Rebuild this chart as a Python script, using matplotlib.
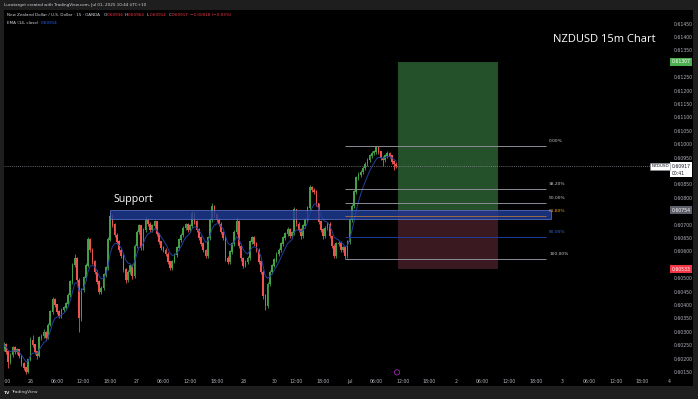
import numpy as np
import pandas as pd
import matplotlib
matplotlib.use("Agg")
import matplotlib.pyplot as plt
import matplotlib.transforms as mtransforms
from matplotlib.patches import Rectangle

# NZDUSD, 30-minute candles (prices in points, 1e-5)
first_open_pts = 60236
closes_pts = [
    60251, 60225, 60187, 60213, 60240, 60225, 60232, 60210, 60180, 60165,
    60150, 60195, 60269, 60251, 60225, 60210, 60277, 60284, 60299, 60277,
    60325, 60374, 60419, 60400, 60374, 60359, 60381, 60389, 60404, 60437,
    60486, 60549, 60575, 60493, 60352, 60456, 60501, 60546, 60643, 60605,
    60561, 60523, 60486, 60449, 60463, 60512, 60538, 60643, 60732, 60699,
    60661, 60635, 60605, 60583, 60531, 60493, 60523, 60546, 60508, 60620,
    60672, 60695, 60613, 60680, 60717, 60702, 60680, 60695, 60710, 60665,
    60635, 60613, 60605, 60590, 60561, 60538, 60561, 60587, 60613, 60643,
    60661, 60687, 60699, 60680, 60695, 60740, 60710, 60680, 60650, 60628,
    60605, 60583, 60650, 60717, 60769, 60736, 60717, 60702, 60672, 60650,
    60575, 60561, 60598, 60628, 60672, 60710, 60620, 60575, 60546, 60561,
    60575, 60635, 60650, 60628, 60605, 60561, 60523, 60434, 60396, 60478,
    60523, 60546, 60568, 60590, 60605, 60628, 60650, 60665, 60680, 60657,
    60669, 60755, 60702, 60680, 60657, 60695, 60717, 60762, 60837, 60829,
    60822, 60777, 60710, 60680, 60657, 60687, 60702, 60657, 60620, 60583,
    60628, 60631, 60605, 60613, 60583, 60635, 60717, 60769, 60822, 60874,
    60885, 60896, 60911, 60926, 60941, 60956, 60967, 60971, 60986, 60971,
    60948, 60941, 60956, 60967, 60956, 60934, 60926, 60917]
highs_pts = [
    60262, 60258, 60230, 60220, 60248, 60247, 60240, 60236, 60214, 60186,
    60170, 60200, 60280, 60288, 60256, 60230, 60285, 60292, 60310, 60304,
    60334, 60382, 60430, 60425, 60405, 60380, 60388, 60397, 60412, 60445,
    60494, 60558, 60590, 60580, 60500, 60462, 60510, 60555, 60654, 60650,
    60612, 60568, 60530, 60492, 60470, 60520, 60546, 60652, 60745, 60740,
    60706, 60668, 60642, 60612, 60590, 60538, 60530, 60554, 60552, 60628,
    60680, 60704, 60700, 60688, 60730, 60724, 60708, 60703, 60718, 60715,
    60670, 60640, 60620, 60612, 60596, 60566, 60568, 60594, 60620, 60650,
    60670, 60695, 60707, 60706, 60703, 60752, 60746, 60716, 60686, 60656,
    60634, 60610, 60658, 60725, 60782, 60775, 60742, 60724, 60708, 60678,
    60656, 60582, 60605, 60636, 60680, 60728, 60716, 60626, 60580, 60568,
    60582, 60642, 60658, 60656, 60634, 60612, 60568, 60530, 60440, 60486,
    60530, 60554, 60576, 60598, 60614, 60636, 60658, 60674, 60690, 60688,
    60677, 60766, 60760, 60708, 60686, 60702, 60725, 60770, 60848, 60845,
    60836, 60828, 60782, 60716, 60686, 60695, 60710, 60708, 60663, 60626,
    60636, 60640, 60638, 60622, 60620, 60642, 60725, 60778, 60830, 60882,
    60895, 60905, 60920, 60934, 60950, 60964, 60975, 60980, 60993, 60990,
    60976, 60955, 60964, 60975, 60972, 60960, 60940, 60935]
lows_pts = [
    60228, 60216, 60165, 60180, 60206, 60218, 60218, 60202, 60172, 60158,
    60143, 60145, 60190, 60244, 60218, 60200, 60206, 60270, 60278, 60270,
    60272, 60320, 60368, 60392, 60366, 60350, 60352, 60374, 60382, 60398,
    60430, 60480, 60542, 60485, 60299, 60340, 60448, 60495, 60540, 60598,
    60552, 60515, 60478, 60440, 60442, 60456, 60505, 60532, 60638, 60690,
    60652, 60626, 60596, 60574, 60522, 60482, 60486, 60515, 60498, 60500,
    60612, 60665, 60605, 60606, 60672, 60694, 60672, 60674, 60688, 60658,
    60628, 60605, 60596, 60582, 60552, 60530, 60532, 60555, 60580, 60606,
    60636, 60654, 60680, 60672, 60673, 60688, 60702, 60672, 60642, 60620,
    60597, 60574, 60576, 60644, 60710, 60728, 60708, 60694, 60664, 60642,
    60566, 60552, 60554, 60590, 60620, 60665, 60612, 60566, 60538, 60540,
    60554, 60568, 60628, 60620, 60598, 60552, 60514, 60424, 60381, 60390,
    60470, 60516, 60540, 60560, 60582, 60598, 60620, 60642, 60658, 60650,
    60650, 60662, 60694, 60672, 60648, 60650, 60688, 60710, 60755, 60820,
    60814, 60768, 60702, 60672, 60648, 60650, 60680, 60650, 60612, 60574,
    60576, 60620, 60597, 60598, 60572, 60576, 60628, 60710, 60762, 60815,
    60866, 60878, 60888, 60904, 60918, 60934, 60948, 60960, 60964, 60962,
    60940, 60920, 60934, 60950, 60948, 60926, 60905, 60910]

# time axis in trading hours from 18:00 Jun 25 (weekend removed)
tick_hours = [0, 6, 12, 18, 24, 30, 36, 42, 48, 54, 61, 66, 72, 78, 84,
              90, 96, 102, 108, 114, 120, 126, 132, 138, 144, 150]
tick_labels = ["18:00", "26", "06:00", "12:00", "18:00", "27", "06:00", "12:00",
               "18:00", "28", "30", "12:00", "18:00", "Jul", "06:00", "12:00",
               "18:00", "2", "06:00", "12:00", "18:00", "3", "06:00", "12:00",
               "18:00", "4"]

support_zone = (24.0, 123.4, 0.60720, 0.60754)
fib_span = (77.0, 122.3)
fib_top, fib_bottom = 0.60993, 0.60570
fib_ratios = [0.0, 0.382, 0.5, 0.618, 0.8, 1.0]
fib_names = ["0.00%", "38.20%", "50.00%", "61.80%", "80.00%", "100.00%"]
long_span = (88.9, 111.5)
target, entry, stop = 0.61307, 0.60754, 0.60533
last_price = 0.60917

BG = "#000000"
BAND = "#1e1e1e"
TXT = "#b2b5be"
UP, DOWN = "#43a047", "#ef5350"

closes = np.array(closes_pts) / 1e5
highs = np.array(highs_pts) / 1e5
lows = np.array(lows_pts) / 1e5
opens = np.r_[first_open_pts / 1e5, closes[:-1]]
hours = np.arange(len(closes)) * 0.5
ema = pd.Series(closes).ewm(span=7, adjust=False).mean()

W, H = 698, 399
fig = plt.figure(figsize=(W / 100, H / 100), dpi=100, facecolor=BG)
ax = fig.add_axes([3.3 / W, 23 / H, 666.7 / W, 366 / H], facecolor=BG)
for s in ax.spines.values():
    s.set_visible(False)

# candles
up = closes >= opens
cols = np.where(up, UP, DOWN)
ax.vlines(hours, lows, highs, colors=cols, linewidth=0.6, zorder=2)
ax.bar(hours, np.abs(closes - opens) + 0.00002, bottom=np.minimum(opens, closes),
       width=0.38, color=cols, linewidth=0, zorder=3)
ax.plot(hours, ema, color="#2440a0", linewidth=0.7, zorder=4)

# long position
ax.add_patch(Rectangle((long_span[0], entry), long_span[1] - long_span[0], target - entry,
                       facecolor="#24502a", edgecolor="none", zorder=1))
ax.add_patch(Rectangle((long_span[0], stop), long_span[1] - long_span[0], entry - stop,
                       facecolor="#3a1a20", edgecolor="none", zorder=1))

# support zone
x0, x1, y0, y1 = support_zone
ax.add_patch(Rectangle((x0, y0), x1 - x0, y1 - y0, facecolor="#1f3d99", alpha=0.8,
                       edgecolor="#5f7fd6", linewidth=0.6, zorder=5))
ax.text(x0 + 0.8, y1 + 0.00018, "Support", color="white", fontsize=7.6,
        family="Open Sans", va="bottom", ha="left", zorder=6)

# fibonacci retracement
fib_line_cols = ["#8a8d96", "#8a8d96", "#8a8d96", "#9a6a48", "#1f3d9e", "#8a8d96"]
fib_txt_cols = ["#c8cad0", "#c8cad0", "#c8cad0", "#f0a030", "#3a64d8", "#c8cad0"]
for r, name, lc, tc in zip(fib_ratios, fib_names, fib_line_cols, fib_txt_cols):
    p = fib_top - r * (fib_top - fib_bottom)
    ax.hlines(p, fib_span[0], fib_span[1], color=lc, linewidth=0.7, zorder=6)
    ax.annotate(name, (fib_span[1], p), xytext=(2.2, 3.6), textcoords="offset points",
                color=tc, fontsize=3.2, va="center", ha="left", zorder=7)

# current price dotted line
ax.axhline(last_price, color="#8a8d96", linewidth=0.6, linestyle=(0, (1, 1.5)), zorder=1)

ax.set_xlim(-0.1, 150.25)
ax.set_ylim(0.60135, 0.61501)
ax.set_xticks(tick_hours)
ax.set_xticklabels(tick_labels)
ax.yaxis.tick_right()
# scale labels hidden behind the coloured price tags are left out
yt = [v for v in np.arange(0.6015, 0.61451, 0.0005)
      if min(abs(v - target), abs(v - entry), abs(v - stop), abs(v - last_price)) > 0.00024]
ax.set_yticks(yt)
ax.set_yticklabels([f"{v:.5f}" for v in yt])
ax.tick_params(axis="both", length=0, colors=TXT, labelsize=3.3)
ax.tick_params(axis="x", pad=2.5)
ax.tick_params(axis="y", pad=3)

# price scale labels
bt = mtransforms.blended_transform_factory(ax.transAxes, ax.transData)
def price_tag(price, text, fc, tc):
    ax.text(1.0025, price, text, transform=bt, fontsize=3.3, color=tc, ha="left",
            va="center", zorder=10,
            bbox=dict(boxstyle="square,pad=0.35", fc=fc, ec="none"))
price_tag(target, f"{target:.5f}", "#4caf50", "white")
price_tag(entry, f"{entry:.5f}", "#5d606b", "white")
price_tag(stop, f"{stop:.5f}", "#f23645", "white")
ax.text(1.0025, last_price - 0.00012, f"{last_price:.5f}\n00:41", transform=bt,
        fontsize=3.3, color="#131722", ha="left", va="center", linespacing=1.5,
        zorder=10, bbox=dict(boxstyle="square,pad=0.35", fc="white", ec="none"))
ax.text(0.9985, last_price, "NZDUSD", transform=bt, fontsize=3.0, color="#131722",
        ha="right", va="center", zorder=10,
        bbox=dict(boxstyle="square,pad=0.35", fc="white", ec="#8a8d96", lw=0.4))

# event marker
ax.scatter([88.7], [0.01], transform=mtransforms.blended_transform_factory(ax.transData, ax.transAxes),
           s=14, facecolor="none", edgecolor="#9c27b0", linewidth=0.6, zorder=8, clip_on=False)

# title
fig.text(553 / W, 1 - 40 / H, "NZDUSD 15m Chart", color="white", fontsize=8,
         family="Open Sans", va="center", ha="left")

# legend rows
leg_y1, leg_y2 = 1 - 15 / H, 1 - 22.5 / H
fig.text(6.7 / W, leg_y1, "New Zealand Dollar / U.S. Dollar · 15 · OANDA", color="#d1d4dc",
         fontsize=3.0, va="center")
for px, lab, val in [(104, "O", "0.60936"), (124.5, "H", "0.60964"),
                     (146.5, "L", "0.60914"), (168.5, "C", "0.60917")]:
    fig.text(px / W, leg_y1, lab, color="#d1d4dc", fontsize=3.0, va="center")
    fig.text((px + 3) / W, leg_y1, val, color="#f23645", fontsize=3.0, va="center")
fig.text(190.5 / W, leg_y1, "−0.00018 (−0.03%)", color="#f23645", fontsize=3.0, va="center")
fig.text(6.7 / W, leg_y2, "EMA (14, close)", color="#d1d4dc", fontsize=3.0, va="center")
fig.text(40.7 / W, leg_y2, "0.60914", color="#2962ff", fontsize=3.0, va="center")

# frame bands
fig.add_artist(Rectangle((0, 1 - 10 / H), 1, 10 / H, transform=fig.transFigure,
                         fc=BAND, ec="none", zorder=20))
fig.add_artist(Rectangle((0, 0), 1, 13 / H, transform=fig.transFigure,
                         fc=BAND, ec="none", zorder=20))
fig.add_artist(Rectangle((0, 0), 3.5 / W, 1, transform=fig.transFigure,
                         fc=BAND, ec="none", zorder=20))
fig.add_artist(Rectangle((1 - 5 / W, 0), 5 / W, 1, transform=fig.transFigure,
                         fc=BAND, ec="none", zorder=20))
fig.text(4 / W, 1 - 5 / H, "Lucatarget created with TradingView.com, Jul 01, 2025 10:44 UTC+10",
         color="#d1d4dc", fontsize=3.0, va="center", zorder=21)
fig.text(4 / W, 6.5 / H, "TV", color="#d1d4dc", fontsize=3.2, weight="bold",
         va="center", zorder=21)
fig.text(11 / W, 6.5 / H, "TradingView", color="#d1d4dc", fontsize=3.2, va="center", zorder=21)

fig.savefig("out.png", dpi=100, facecolor=BG)
